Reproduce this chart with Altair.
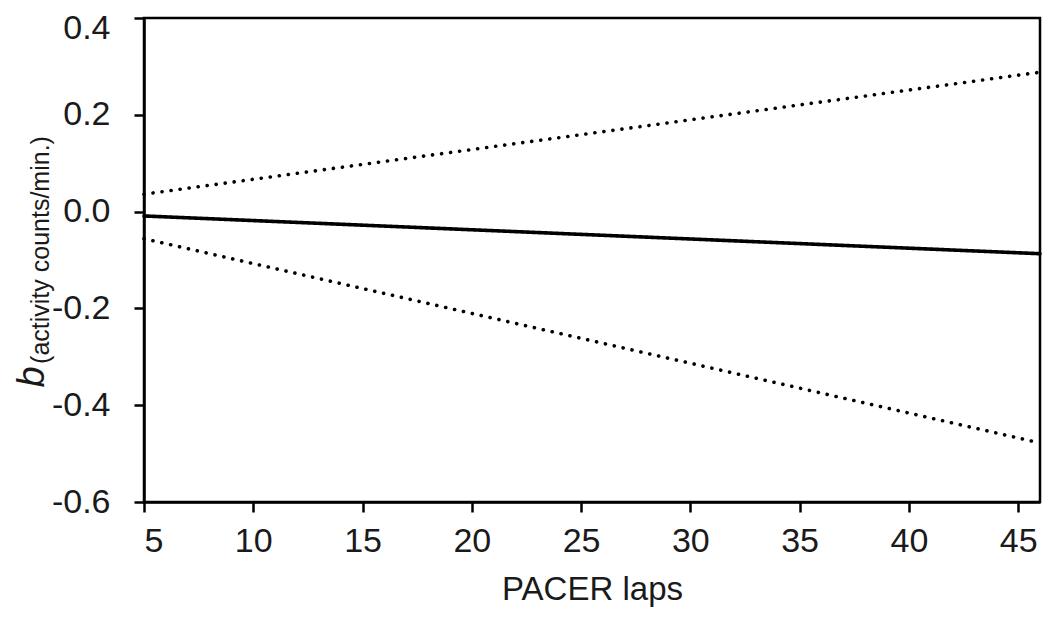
import altair as alt
import pandas as pd

# Data
laps = [5, 46]
estimate = [-0.009, -0.087]
upper_ci = [0.036, 0.288]
lower_ci = [-0.056, -0.478]
x_ticks = [5, 10, 15, 20, 25, 30, 35, 40, 45]
y_ticks = [-0.6, -0.4, -0.2, 0.0, 0.2, 0.4]
series_names = ["estimate", "upper", "lower"]

rows = []
for name, vals in zip(series_names, [estimate, upper_ci, lower_ci]):
    for x, v in zip(laps, vals):
        rows.append({"laps": x, "b": v, "series": name})
df = pd.DataFrame(rows)

FONT = "Liberation Sans"

lines = alt.Chart(df).mark_line(color="black", strokeWidth=3.6, strokeCap="round").encode(
    x=alt.X(
        "laps:Q",
        scale=alt.Scale(domain=[5, 46], nice=False, zero=False),
        axis=alt.Axis(
            values=x_ticks, title="PACER laps", format="d",
            labelPadding=12, titleFontSize=33, titleFont=FONT,
            titleFontWeight="normal", titleColor="#1a1a1a",
            titleBaseline="alphabetic", titleY=97,
        ),
    ),
    y=alt.Y(
        "b:Q",
        scale=alt.Scale(domain=[-0.6, 0.4], nice=False, zero=False),
        axis=alt.Axis(
            values=y_ticks, title=None, labelPadding=24,
            labelExpr="(datum.value < -0.0001 ? '-' : '') + format(abs(datum.value), '.1f')",
            labelOffset={"condition": {"test": "datum.value > 0.39", "value": 10}, "value": 0},
        ),
    ),
    strokeDash=alt.StrokeDash(
        "series:N",
        scale=alt.Scale(domain=series_names, range=[[1, 0], [0.1, 9], [0.1, 9]]),
        legend=None,
    ),
)

b_title = alt.Chart(pd.DataFrame({"t": ["b"]})).mark_text(
    angle=270, align="center", baseline="alphabetic", font=FONT,
    fontSize=38, fontStyle="italic", color="#1a1a1a",
).encode(text="t:N", x=alt.value(-100), y=alt.value(359))

sub_title = alt.Chart(pd.DataFrame({"t": ["(activity counts/min.)"]})).mark_text(
    angle=270, align="center", baseline="alphabetic", font=FONT,
    fontSize=25, color="#1a1a1a",
).encode(text="t:N", x=alt.value(-95), y=alt.value(232))

chart = alt.layer(lines, b_title, sub_title).properties(
    width=896, height=484,
    autosize=alt.AutoSizeParams(type="none"),
    padding={"left": 136, "top": 10, "right": 2, "bottom": 106},
).configure_view(
    stroke="black", strokeWidth=2.5,
).configure_axis(
    grid=False, domainColor="black", domainWidth=2.5,
    tickColor="black", tickWidth=2.5, tickSize=10,
    labelFont=FONT, labelFontSize=34, labelColor="#1a1a1a",
)

chart.save("out.html", embed_options={"renderer": "svg", "actions": False})
